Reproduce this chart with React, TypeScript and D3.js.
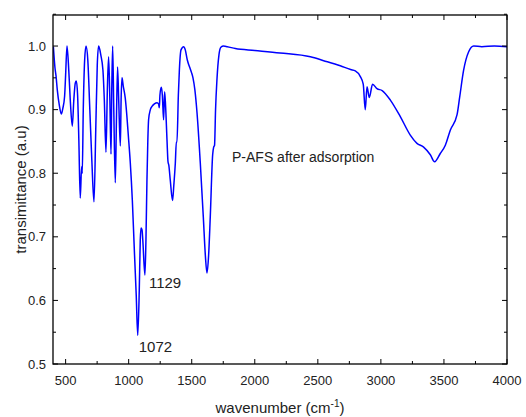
import React from "react";
import * as d3 from "d3";

const wavenumbers: number[] = [
  403, 416, 424, 434, 450, 466, 478, 492, 500, 511, 525, 537, 553, 565, 577, 585, 595, 605, 616, 627, 632, 640, 651, 662,
  676, 692, 708, 725, 739, 751, 762, 779, 796, 807, 820, 831, 841, 851, 860, 866, 873, 882, 894, 903, 912, 921, 934, 940,
  947, 957, 973, 985, 997, 1013, 1029, 1045, 1060, 1072, 1084, 1092, 1098, 1106, 1112, 1129, 1137, 1145, 1152, 1158, 1172,
  1185, 1204, 1225, 1237, 1243, 1248, 1259, 1267, 1277, 1285, 1293, 1304, 1312, 1318, 1330, 1348, 1358, 1370, 1378, 1383,
  1394, 1402, 1415, 1436, 1449, 1465, 1483, 1497, 1510, 1525, 1542, 1568, 1592, 1608, 1621, 1634, 1647, 1666, 1674, 1681,
  1689, 1700, 1716, 1731, 1753, 1782, 1846, 2000, 2200, 2441, 2546, 2678, 2760, 2797, 2837, 2860, 2876, 2890, 2908, 2934,
  2969, 3010, 3075, 3154, 3233, 3286, 3339, 3392, 3426, 3471, 3511, 3551, 3604, 3625, 3656, 3696, 3736, 3800, 3900, 4000,
];

const transmittance: number[] = [
  0.999, 0.965, 0.953, 0.931, 0.907, 0.893, 0.902, 0.921, 0.954, 1.0, 0.962, 0.915, 0.874, 0.915, 0.942, 0.945, 0.923, 0.852,
  0.761, 0.81, 0.8, 0.9, 0.978, 1.0, 0.978, 0.9, 0.82, 0.755, 0.868, 0.97, 1.0, 0.986, 0.962, 0.915, 0.833, 0.931, 0.983,
  0.915, 0.83, 0.931, 1.0, 0.9, 0.785, 0.884, 0.967, 0.915, 0.843, 0.915, 0.95, 0.937, 0.918, 0.892, 0.86, 0.816, 0.758,
  0.679, 0.608, 0.545, 0.616, 0.695, 0.714, 0.711, 0.695, 0.64, 0.695, 0.789, 0.852, 0.884, 0.9, 0.905, 0.909, 0.911, 0.909,
  0.903, 0.923, 0.935, 0.923, 0.884, 0.928, 0.905, 0.852, 0.818, 0.813, 0.789, 0.757, 0.781, 0.816, 0.849, 0.849, 0.923,
  0.962, 0.994, 0.999, 0.994, 0.978, 0.967, 0.959, 0.95, 0.931, 0.895, 0.816, 0.731, 0.671, 0.643, 0.671, 0.731, 0.829,
  0.841, 0.844, 0.9, 0.947, 0.986, 0.998, 1.0, 0.999, 0.996, 0.993, 0.989, 0.983, 0.977, 0.969, 0.963, 0.961, 0.952, 0.94,
  0.9, 0.936, 0.919, 0.94, 0.933, 0.93, 0.915, 0.889, 0.86, 0.847, 0.841, 0.829, 0.818, 0.831, 0.844, 0.868, 0.892, 0.92,
  0.962, 0.991, 1.0, 0.999, 1.0, 0.999,
];

const xTicks: number[] = [500, 1000, 1500, 2000, 2500, 3000, 3500, 4000];
const xMinorTicks: number[] = [750, 1250, 1750, 2250, 2750, 3250, 3750];
const yTicks: number[] = [0.5, 0.6, 0.7, 0.8, 0.9, 1.0];
const yMinorTicks: number[] = [0.55, 0.65, 0.75, 0.85, 0.95, 1.05];

const annotations = [
  { text: "1129", wn: 1129, val: 0.64, dx: 4, dy: 13 },
  { text: "1072", wn: 1072, val: 0.545, dx: 1, dy: 17 },
];

export default function App() {
  const W = 526;
  const H = 417;
  const left = 53;
  const right = 507;
  const top = 15;
  const bottom = 364;

  const x = d3.scaleLinear().domain([400, 4000]).range([left, right]);
  const y = d3.scaleLinear().domain([0.5, 1.0488]).range([bottom, top]);

  const pts = wavenumbers.map((w, i) => [w, transmittance[i]] as [number, number]);
  const line = d3
    .line<[number, number]>()
    .x((d) => x(d[0]))
    .y((d) => y(d[1]))
    .curve(d3.curveMonotoneX);

  const font = "'Liberation Sans', Arial, sans-serif";
  const major = 5;
  const minor = 3;

  return (
    <svg
      width={W}
      height={H}
      style={{ position: "absolute", left: 0, top: 0, background: "#fff" }}
      fontFamily={font}
    >
      <defs>
        <clipPath id="plotclip">
          <rect x={left} y={top} width={right - left} height={bottom - top} />
        </clipPath>
      </defs>
      <path d={line(pts) ?? ""} fill="none" stroke="#0000ff" strokeWidth={1.5} clipPath="url(#plotclip)" />
      <rect x={left} y={top} width={right - left} height={bottom - top} fill="none" stroke="#000" strokeWidth={1.3} />
      {xTicks.map((t) => (
        <g key={"xt" + t}>
          <line x1={x(t)} x2={x(t)} y1={bottom} y2={bottom - major} stroke="#000" strokeWidth={1} />
          <line x1={x(t)} x2={x(t)} y1={top} y2={top + major} stroke="#000" strokeWidth={1} />
          <text x={x(t)} y={bottom + 21} textAnchor="middle" fontSize={13} fill="#222">
            {t}
          </text>
        </g>
      ))}
      {xMinorTicks.map((t) => (
        <g key={"xm" + t}>
          <line x1={x(t)} x2={x(t)} y1={bottom} y2={bottom - minor} stroke="#000" strokeWidth={1} />
          <line x1={x(t)} x2={x(t)} y1={top} y2={top + minor} stroke="#000" strokeWidth={1} />
        </g>
      ))}
      {yTicks.map((t) => (
        <g key={"yt" + t}>
          <line x1={left} x2={left + major} y1={y(t)} y2={y(t)} stroke="#000" strokeWidth={1} />
          <line x1={right} x2={right - major} y1={y(t)} y2={y(t)} stroke="#000" strokeWidth={1} />
          <text x={left - 7} y={y(t) + 4.5} textAnchor="end" fontSize={13} fill="#222">
            {d3.format(".1f")(t)}
          </text>
        </g>
      ))}
      {yMinorTicks.map((t) => (
        <g key={"ym" + t}>
          <line x1={left} x2={left + minor} y1={y(t)} y2={y(t)} stroke="#000" strokeWidth={1} />
          <line x1={right} x2={right - minor} y1={y(t)} y2={y(t)} stroke="#000" strokeWidth={1} />
        </g>
      ))}
      <text x={(left + right) / 2} y={413} textAnchor="middle" fontSize={15} fill="#222">
        wavenumber (cm
        <tspan dy={-6} fontSize={10}>-1</tspan>
        <tspan dy={6}>)</tspan>
      </text>
      <text
        transform={`translate(26, ${(top + bottom) / 2}) rotate(-90)`}
        textAnchor="middle"
        fontSize={15}
        fill="#222"
      >
        transimittance (a.u)
      </text>
      <text x={232} y={162} fontSize={14} fill="#222">
        P-AFS after adsorption
      </text>
      {annotations.map((a) => (
        <text key={a.text} x={x(a.wn) + a.dx} y={y(a.val) + a.dy} fontSize={15} fill="#222">
          {a.text}
        </text>
      ))}
    </svg>
  );
}
